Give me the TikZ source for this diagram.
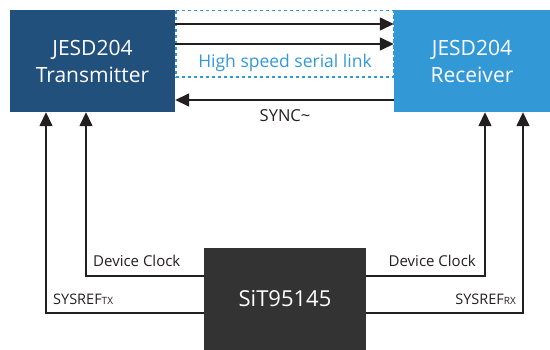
\documentclass[tikz,border=0pt]{standalone}
\usepackage{fontspec}
\setmainfont{Open Sans}
\usetikzlibrary{arrows.meta}
\definecolor{txblue}{HTML}{22507D}
\definecolor{rxblue}{HTML}{3399D6}
\definecolor{sitgray}{HTML}{333333}
\definecolor{linegray}{HTML}{231F20}
\tikzset{
  block/.style={rectangle, inner sep=0pt, text=white, align=center},
  arr/.style={draw=linegray, line width=1.5pt, -{Triangle[length=14pt,width=13pt]}},
  lbl/.style={inner sep=0pt, font=\fontsize{15}{17}\selectfont, text=linegray},
  dashbox/.style={draw=rxblue, line width=1.3pt, dash pattern=on 3.5pt off 2.5pt}
}
\begin{document}
\begin{tikzpicture}[x=1pt,y=-1pt]
\useasboundingbox (0,0) rectangle (550,350);
\node[block, fill=txblue, minimum width=165pt, minimum height=102pt,
  font=\fontsize{21}{27}\selectfont] (tx) at (92.5,61) {JESD204\\Transmitter};
\node[block, fill=rxblue, minimum width=156pt, minimum height=102pt,
  font=\fontsize{21}{27}\selectfont] (rx) at (472,61) {JESD204\\Receiver};
\node[block, fill=sitgray, minimum width=162pt, minimum height=102pt,
  font=\fontsize{22}{24}\selectfont] (sit) at (285,299) {SiT95145};
% dashed link box
\coordinate (dA) at (176,10.7);
\coordinate (dB) at (393.3,77);
\draw[dashbox] (dA) rectangle (dB);
\node[inner sep=0pt, anchor=base, text=rxblue, font=\fontsize{17.5}{19}\selectfont] (hs) at (285,68) {High speed serial link};
% lanes
\draw[arr] (tx.east |- 0,24) -- (rx.west |- 0,24);
\draw[arr] (tx.east |- 0,44) -- (rx.west |- 0,44);
\draw[arr] (rx.west |- 0,100) -- (tx.east |- 0,100);
\node[lbl, anchor=base, font=\fontsize{16.5}{18}\selectfont] (sync) at (285,122) {SYNC\textasciitilde};
% clocks left
\draw[arr] (sit.west |- 0,276) -| (86,0 |- tx.south);
\draw[arr] (sit.west |- 0,313) -| (46,0 |- tx.south);
% clocks right
\draw[arr] (sit.east |- 0,276) -| (485,0 |- rx.south);
\draw[arr] (sit.east |- 0,313) -| (523,0 |- rx.south);
% labels
\node[lbl, anchor=base west] (dcl) at (93,267) {Device Clock};
\node[lbl, anchor=base east] (dcr) at (476,267) {Device Clock};
\node[lbl, anchor=base west, font=\fontsize{14.5}{16}\selectfont] (srl) at (53,305) {SYSREF{\fontsize{10}{10}\selectfont TX}};
\node[lbl, anchor=base east, font=\fontsize{14.5}{16}\selectfont] (srr) at (516,305) {SYSREF{\fontsize{10}{10}\selectfont RX}};
\end{tikzpicture}
\end{document}
